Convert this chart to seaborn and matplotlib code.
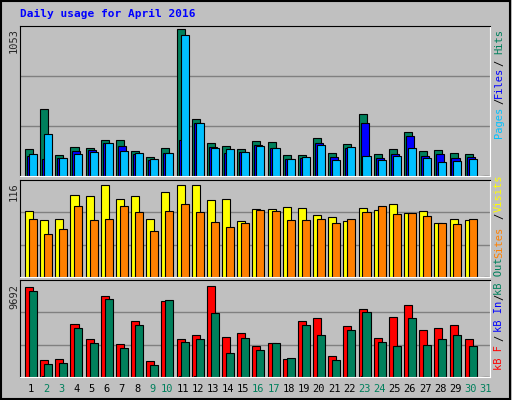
import numpy as np
import pandas as pd
import matplotlib
matplotlib.use("Agg")
import matplotlib.pyplot as plt
import seaborn as sns
from matplotlib.patches import Rectangle

sns.set_style("white")
plt.rcParams['font.family'] = ['DejaVu Sans Mono']

# Dados
dias = list(range(1, 32))
fim_semana = [2, 3, 9, 10, 16, 17, 23, 24, 30, 31]
hits = [191, 481, 152, 210, 202, 260, 260, 181, 138, 202, 1053, 405, 238, 217, 195,
        252, 245, 152, 152, 274, 167, 231, 445, 160, 195, 317, 181, 188, 167, 160, 0]
files = [143, 124, 131, 181, 188, 238, 217, 157, 117, 167, 260, 381, 210, 167, 174,
         224, 202, 124, 131, 238, 138, 202, 381, 131, 160, 288, 145, 160, 131, 138, 0]
pages = [160, 303, 131, 160, 174, 238, 181, 167, 124, 167, 1010, 381, 202, 195, 174,
         217, 202, 124, 138, 224, 117, 210, 145, 117, 145, 202, 131, 102, 110, 124, 0]
visits = [83, 72, 73, 103, 102, 116, 98, 102, 73, 107, 116, 116, 97, 98, 71,
          86, 86, 88, 87, 78, 76, 71, 87, 84, 92, 81, 83, 68, 73, 72, 0]
sites = [73, 54, 61, 90, 72, 73, 90, 82, 58, 83, 92, 82, 69, 63, 68,
         84, 83, 72, 72, 73, 68, 73, 82, 90, 80, 81, 77, 68, 67, 73, 0]
kb_f = [9586, 1839, 1945, 5659, 4068, 8631, 3537, 5977, 1733, 8100, 4068, 4492, 9692, 4280, 4704,
        3325, 3643, 1945, 5977, 6296, 2264, 5447, 7251, 4174, 6402, 7675, 5023, 5235, 5553, 4068, 0]
kb_in = [30, 60, 30, 30, 30, 30, 30, 30, 30, 30, 60, 60, 30, 30, 30,
         30, 30, 30, 30, 30, 30, 30, 80, 30, 30, 30, 30, 30, 30, 30, 0]
kb_out = [9161, 1415, 1521, 5235, 3643, 8312, 3113, 5553, 1309, 8206, 3749, 4068, 6827, 2582, 4174,
          2900, 3643, 2051, 5553, 4492, 1839, 5023, 6933, 3749, 3325, 6296, 3431, 4068, 4492, 3325, 0]

df = pd.DataFrame({'dia': dias, 'hits': hits, 'files': files, 'pages': pages,
                   'visits': visits, 'sites': sites,
                   'kb_f': kb_f, 'kb_in': kb_in, 'kb_out': kb_out})

VERDE = '#00805C'
fig = plt.figure(figsize=(5.12, 4.0), dpi=100, facecolor='#C0C0C0')
fig.patches.append(Rectangle((0.002, 0.002), 0.995, 0.995, transform=fig.transFigure,
                             fill=False, edgecolor='black', linewidth=1.5))

def painel(y_top, y_bot):
    ax = fig.add_axes([20 / 512, 1 - y_bot / 400, 470 / 512, (y_bot - y_top) / 400])
    ax.set_facecolor('#C0C0C0')
    ax.set_xlim(0.5, 31.5)
    ax.set_xticks([])
    ax.set_yticks([])
    for s in ax.spines.values():
        s.set_color('white')
    ax.spines['left'].set_color('black')
    ax.spines['top'].set_color('black')
    return ax

def barras(ax, series, offsets, ymax, px_total, px_max):
    lim = ymax * px_total / px_max
    ax.set_ylim(0, lim)
    for frac in (1 / 3, 2 / 3):
        ax.axhline(lim * frac, color='#808080', linewidth=1, zorder=0)
    for (col, cor), off in zip(series, offsets):
        ax.bar(df['dia'] + off, df[col], width=0.53, align='edge', color=cor,
               edgecolor='black', linewidth=0.8, zorder=2)

ax1 = painel(26, 176)
barras(ax1, [('hits', VERDE), ('files', '#0000FF'), ('pages', '#00C0FF')],
       [-0.17, -0.04, 0.09], 1053, 150, 147)
ax2 = painel(180, 277)
barras(ax2, [('visits', '#FFFF00'), ('sites', '#FF8000')], [-0.17, 0.09], 116, 97, 92)
ax3 = painel(280, 377)
barras(ax3, [('kb_f', '#FF0000'), ('kb_in', '#0000FF'), ('kb_out', VERDE)],
       [-0.17, -0.04, 0.09], 9692, 97, 91.4)

def px(x, y):
    return x / 512, 1 - y / 400

fs = 7.5
fig.text(*px(20, 14), 'Daily usage for April 2016', color='#0000FF', fontsize=8,
         fontweight='bold', va='center', ha='left')
for txt, y in [('1053', 28), ('116', 182), ('9692', 284)]:
    fig.text(*px(14, y), txt, rotation=90, fontsize=fs, va='top', ha='center')

rotulos = [('Pages', '#00C0FF', 122), ('/', 'black', 101), ('Files', '#0000FF', 82),
           ('/', 'black', 63), ('Hits', VERDE, 42),
           ('Sites', '#FF8000', 242), ('/', 'black', 216), ('Visits', '#FFFF00', 193),
           ('kB F', '#FF0000', 358), ('/', 'black', 338), ('kB In', '#0000FF', 316),
           ('/', 'black', 297), ('kB Out', VERDE, 276)]
for txt, cor, y in rotulos:
    fig.text(*px(499, y), txt, rotation=90, color=cor, fontsize=fs, va='center', ha='center')

for d in dias:
    x = 20 + (d - 0.5 + 0.22) * 470 / 31
    cor = VERDE if d in fim_semana else 'black'
    fig.text(*px(x, 389), str(d), color=cor, fontsize=fs, ha='center', va='center')

fig.savefig('out.png', dpi=100, facecolor=fig.get_facecolor())
